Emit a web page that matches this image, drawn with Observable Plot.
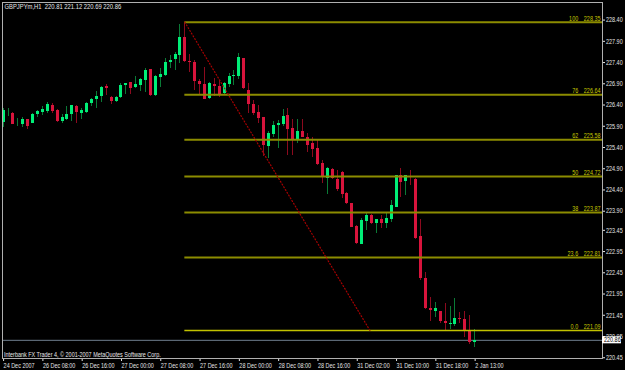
<!DOCTYPE html>
<html><head><meta charset="utf-8">
<script src="https://cdn.jsdelivr.net/npm/d3@7"></script>
<script src="https://cdn.jsdelivr.net/npm/@observablehq/plot@0.6"></script>
<style>
html,body{margin:0;padding:0;background:#000;overflow:hidden;}
</style>
</head><body><div id="chart"></div>
<script>
// ---- data (GBPJPYm, H1) ----
const symbolTitle = "GBPJPYm,H1  220.81 221.12 220.69 220.86";
const copyright = "Interbank FX Trader 4, \u00A9 2001-2007 MetaQuotes Software Corp.";

const opens = [226.00,226.20,226.21,225.96,225.94,226.05,225.97,226.17,226.23,226.25,
226.39,226.27,226.01,226.05,226.18,226.37,226.21,226.23,226.44,226.54,
226.61,226.84,226.58,226.48,226.57,226.85,226.92,226.81,226.86,226.98,
227.23,226.62,227.05,227.10,227.41,227.47,227.57,227.99,227.42,227.41,
226.95,226.89,226.55,226.89,226.84,226.66,226.88,227.06,227.06,227.49,
226.74,226.41,226.23,226.10,225.42,225.71,225.92,225.94,226.15,225.84,
225.60,225.77,225.64,225.50,225.37,225.03,224.68,224.88,224.64,224.82,
224.32,224.07,223.55,223.12,223.66,223.80,223.60,223.70,223.60,223.70,
223.99,224.74,224.61,224.72,224.65,223.30,222.31,221.60,221.55,221.54,
221.30,221.23,221.23,221.37,221.35,221.07,220.81];
const highs = [226.32,226.31,226.22,226.08,226.10,226.06,226.21,226.27,226.37,226.47,
226.43,226.29,226.17,226.37,226.39,226.39,226.31,226.47,226.56,226.73,
226.84,226.88,226.60,226.60,226.90,226.91,226.93,227.08,227.03,227.25,
227.24,227.10,227.25,227.49,227.57,227.64,228.30,228.35,227.58,227.45,
227.00,227.28,226.92,227.02,226.98,226.94,227.14,227.21,227.62,227.50,
226.90,226.51,226.39,226.11,225.78,226.02,226.04,226.29,226.31,226.06,
226.06,226.06,225.72,225.63,225.60,225.09,224.94,224.90,224.87,224.84,
224.35,224.09,223.56,223.74,223.88,223.82,223.71,223.80,223.88,224.15,
224.75,224.90,224.75,224.86,224.66,223.70,222.45,221.86,221.74,221.55,
221.72,221.66,221.85,221.52,221.55,221.44,221.12];
const lows = [225.88,226.12,225.93,225.89,225.88,225.82,225.96,226.11,226.15,226.21,
226.21,226.00,225.96,226.04,226.01,225.97,226.07,226.19,226.37,226.33,
226.47,226.62,226.41,226.47,226.55,226.64,226.64,226.78,226.72,226.70,
226.59,226.61,226.82,227.08,227.25,227.21,227.37,227.41,227.17,226.74,
226.62,226.52,226.53,226.61,226.58,226.64,226.82,226.86,226.99,226.77,
226.19,226.15,225.97,225.19,225.13,225.63,225.37,225.89,225.21,225.21,
225.50,225.63,225.29,225.17,224.98,224.56,224.29,224.64,224.37,224.19,
224.06,223.51,223.12,223.11,223.45,223.59,223.38,223.49,223.50,223.64,
223.98,224.23,224.27,224.50,223.23,222.28,221.58,221.31,221.40,221.25,
221.09,221.11,221.19,221.25,220.92,220.76,220.69];
const closes = [226.26,226.21,225.94,225.97,226.06,225.89,226.18,226.25,226.29,226.41,
226.25,226.01,226.11,226.18,226.38,226.23,226.27,226.44,226.54,226.61,
226.82,226.78,226.48,226.58,226.87,226.91,226.80,226.88,226.99,227.21,
226.62,227.07,227.13,227.41,227.46,227.59,227.99,227.42,227.40,226.95,
226.88,226.53,226.90,226.84,226.62,226.91,227.07,227.10,227.51,226.78,
226.41,226.19,226.08,225.45,225.72,225.92,225.97,226.14,225.82,225.58,
225.78,225.64,225.45,225.35,225.00,224.72,224.91,224.66,224.40,224.29,
224.07,223.52,223.13,223.68,223.80,223.60,223.70,223.60,223.72,224.03,
224.74,224.58,224.74,224.69,223.26,222.31,221.60,221.56,221.60,221.30,
221.25,221.26,221.38,221.34,221.07,220.81,220.86];

const timeTickBars = [0,8,16,24,32,40,48,56,64,72,80,88,96];
const timeTickLabels = ["24 Dec 2007","26 Dec 08:00","26 Dec 16:00","27 Dec 00:00","27 Dec 08:00",
  "27 Dec 16:00","28 Dec 00:00","28 Dec 08:00","28 Dec 16:00","31 Dec 02:00","31 Dec 10:00",
  "31 Dec 18:00","2 Jan 13:00"];
const priceTicks = [228.40,227.90,227.40,226.90,226.40,225.90,225.40,224.90,224.40,223.90,
  223.45,222.95,222.45,221.95,221.45,220.95,220.45];

const fibLevelLabels = ["100","76","62","50","38","23.6","0.0"];
const fibPrices = [228.35,226.64,225.58,224.72,223.87,222.81,221.09];
const fibStartBar = 37;
const trendBars = [37, 74.7];
const trendPrices = [228.35, 221.09];
const bidPrice = 220.86;

// ---- build tables ----
const X_DOMAIN = [-0.122, 122.03];
const BULL_BODY = "#00ee77", BEAR_BODY = "#d8143c", BULL_WICK = "#0a7a36", BEAR_WICK = "#8c0a1e";
const candles = opens.map((o, i) => ({i, open: o, high: highs[i], low: lows[i], close: closes[i]}));
const fib = fibPrices.map((p, k) => ({price: p, label: fibLevelLabels[k], start: fibStartBar, end: X_DOMAIN[1], txt: p.toFixed(2)}));
const trend = trendBars.map((b, k) => ({i: b, price: trendPrices[k]}));
const tickLabelMap = new Map(timeTickBars.map((b, k) => [b, timeTickLabels[k]]));

const chart = Plot.plot({
  width: 625, height: 370,
  marginTop: 2, marginBottom: 12, marginLeft: 2, marginRight: 23,
  x: {type: "linear", domain: X_DOMAIN},
  y: {type: "linear", domain: [220.432, 228.814]},
  color: {type: "identity"},
  style: {background: "#000", color: "#e4e4e4", fontFamily: "'Liberation Sans', Arial, sans-serif", fontSize: "7px"},
  marks: [
    Plot.ruleY([bidPrice], {stroke: "#6f7f8f", strokeWidth: 1}),
    Plot.ruleX(candles, {x: "i", y1: "low", y2: "high", stroke: d => d.close >= d.open ? BULL_WICK : BEAR_WICK, strokeWidth: 1, shapeRendering: "crispEdges"}),
    Plot.ruleX(candles, {x: "i", y1: "open", y2: "close", stroke: d => d.close >= d.open ? BULL_BODY : BEAR_BODY, strokeWidth: 3, shapeRendering: "crispEdges"}),
    Plot.ruleY(fib.filter(d => d.label !== "0.0"), {y: "price", x1: "start", x2: "end", stroke: "#8c8c00", strokeWidth: 2}),
    Plot.ruleY(fib.filter(d => d.label === "0.0"), {y: "price", x1: "start", x2: "end", stroke: "#c2c200", strokeWidth: 1.5}),
    Plot.line(trend, {x: "i", y: "price", stroke: "#a80000", strokeWidth: 1.2, strokeDasharray: "1,2.2"}),
    Plot.text(fib, {y: "price", frameAnchor: "right", text: "txt", textAnchor: "end", lineAnchor: "bottom", dx: -2, dy: -1.5, fill: "#c8c800"}),
    Plot.text(fib, {y: "price", frameAnchor: "right", text: "label", textAnchor: "end", lineAnchor: "bottom", dx: -24.3, dy: -1.5, fill: "#c8c800"}),
    Plot.axisY({anchor: "right", ticks: priceTicks, tickFormat: d => d.toFixed(2), tickSize: 2, tickPadding: 1.5, label: null}),
    Plot.axisX({anchor: "bottom", ticks: timeTickBars, tickFormat: d => tickLabelMap.get(d), tickSize: 3, tickPadding: 1.5, textAnchor: "start", dx: 0.5, label: null}),
    Plot.frame({stroke: "#b0b0b0"}),
    Plot.text([symbolTitle], {frameAnchor: "top-left", dx: 2, dy: 1.5, lineAnchor: "top", textAnchor: "start", fontSize: 7.5, fill: "#e8e8e8"}),
    Plot.text([copyright], {frameAnchor: "bottom-left", dx: 1.5, dy: -1.5, lineAnchor: "bottom", textAnchor: "start", fill: "#e8e8e8"})
  ]
});
document.getElementById("chart").appendChild(chart);

// bid price marker on the price axis
const by = chart.scale("y").apply(bidPrice);
const svg = d3.select(chart);
svg.append("rect").attr("x", 602).attr("y", by - 3.5).attr("width", 19).attr("height", 7).attr("fill", "#ffffff");
svg.append("text").attr("x", 604).attr("y", by).attr("dy", "0.32em").attr("fill", "#000")
  .attr("font-size", 7).attr("text-anchor", "start").text(bidPrice.toFixed(2));

// narrow the glyphs like the terminal font (horizontal scale about each text's anchor)
chart.querySelectorAll("text").forEach(t => {
  const x = parseFloat(t.getAttribute("x")) || 0;
  const y = parseFloat(t.getAttribute("y")) || 0;
  const tr = t.getAttribute("transform") || "";
  t.setAttribute("transform", `${tr} translate(${x},${y}) scale(0.78,1) translate(${-x},${-y})`);
});
</script>
</body></html>
